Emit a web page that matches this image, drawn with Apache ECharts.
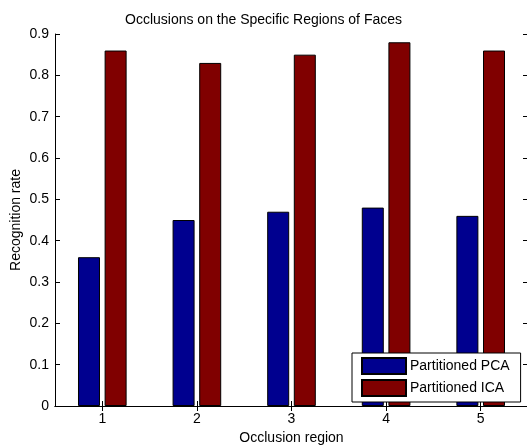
<!DOCTYPE html>
<html>
<head>
<meta charset="utf-8">
<script src="https://cdn.jsdelivr.net/npm/echarts@6/dist/echarts.min.js"></script>
<style>
html,body{margin:0;padding:0;background:#fff;}
#main{width:527px;height:446px;}
</style>
</head>
<body>
<div id="main"></div>
<script>
const categories = ['1', '2', '3', '4', '5'];
const pcaValues = [0.36, 0.45, 0.47, 0.48, 0.46];
const icaValues = [0.86, 0.83, 0.85, 0.88, 0.86];
const seriesNames = ['Partitioned PCA', 'Partitioned ICA'];
const titleText = 'Occlusions on the Specific Regions of Faces';
const xAxisName = 'Occlusion region';
const yAxisName = 'Recognition rate';

const FONT = 'Liberation Sans, Arial, sans-serif';
const chart = echarts.init(document.getElementById('main'), null, {renderer: 'canvas'});
const axisLine = {show: true, lineStyle: {color: '#000', width: 1}};
const tick = {show: true, inside: true, length: 5, lineStyle: {color: '#000'}};

chart.setOption({
  animation: false,
  backgroundColor: '#fff',
  textStyle: {fontFamily: FONT},
  title: {
    text: titleText, left: 'center', top: 8,
    textStyle: {fontFamily: FONT, fontSize: 14, fontWeight: 'normal', color: '#000'}
  },
  grid: {left: 55, right: -1, top: 34, bottom: 40, containLabel: false, outerBoundsMode: 'none'},
  legend: {
    orient: 'vertical', left: 352, top: 353,
    data: seriesNames,
    itemWidth: 44, itemHeight: 16, itemGap: 4,
    padding: [4, 11, 5, 9],
    backgroundColor: '#fff', borderColor: '#000', borderWidth: 1, borderRadius: 0,
    icon: 'rect',
    textStyle: {fontFamily: FONT, fontSize: 14, color: '#000', padding: [0, 0, 0, -1]}
  },
  xAxis: [{
    type: 'category', data: categories, position: 'bottom',
    name: xAxisName, nameLocation: 'middle', nameGap: 25, nameMoveOverlap: false,
    nameTextStyle: {fontFamily: FONT, fontSize: 14, color: '#000'},
    axisLine: axisLine,
    axisTick: Object.assign({alignWithLabel: true}, tick),
    axisLabel: {fontFamily: FONT, fontSize: 14, color: '#000', margin: 6},
    splitLine: {show: false}
  }, {
    type: 'category', data: categories, position: 'top',
    axisLine: axisLine,
    axisTick: Object.assign({alignWithLabel: true}, tick),
    axisLabel: {show: false},
    splitLine: {show: false}
  }],
  yAxis: [{
    type: 'value', min: 0, max: 0.9, interval: 0.1, position: 'left',
    name: yAxisName, nameLocation: 'middle', nameGap: 32, nameRotate: 90, nameMoveOverlap: false,
    nameTextStyle: {fontFamily: FONT, fontSize: 14, color: '#000'},
    axisLine: axisLine, axisTick: tick,
    axisLabel: {fontFamily: FONT, fontSize: 14, color: '#000', margin: 6},
    splitLine: {show: false}
  }, {
    type: 'value', min: 0, max: 0.9, interval: 0.1, position: 'right',
    axisLine: axisLine, axisTick: tick,
    axisLabel: {show: false},
    splitLine: {show: false}
  }],
  series: [{
    name: seriesNames[0], type: 'bar', data: pcaValues,
    barWidth: 22, barGap: '21%',
    itemStyle: {color: '#00008f', borderColor: '#000', borderWidth: 1}
  }, {
    name: seriesNames[1], type: 'bar', data: icaValues,
    barWidth: 22, barGap: '21%',
    itemStyle: {color: '#800000', borderColor: '#000', borderWidth: 1}
  }]
});
</script>
</body>
</html>
